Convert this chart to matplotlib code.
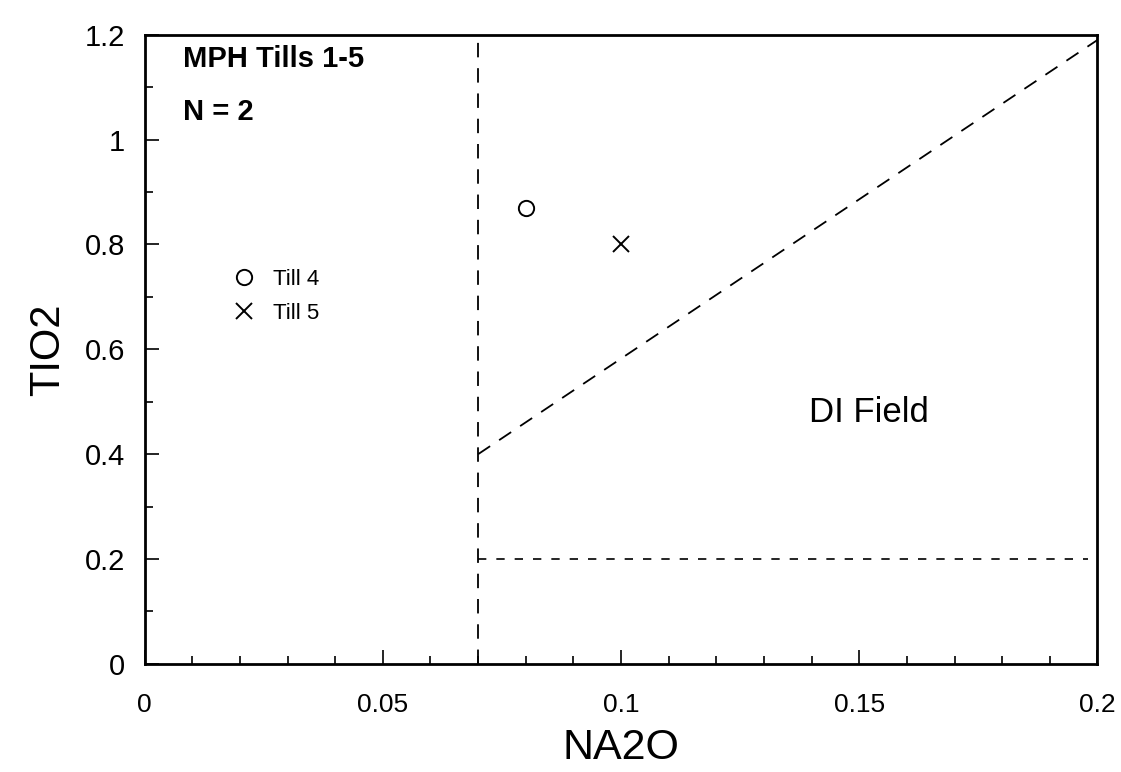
import numpy as np
import matplotlib
matplotlib.use("Agg")
from matplotlib import pyplot as plt
from matplotlib.ticker import MultipleLocator

# sample points (NA2O, TIO2)
till4_na2o = [0.080]
till4_tio2 = [0.87]
till5_na2o = [0.100]
till5_tio2 = [0.80]

# DI field boundaries
vert_x = [0.07, 0.07]
vert_y = [0.0, 1.19]
diag_x = [0.07, 0.2]
diag_y = [0.40, 1.19]
horiz_x = [0.07, 0.198]
horiz_y = [0.20, 0.20]

plt.rcParams['font.family'] = ['Liberation Sans', 'DejaVu Sans']

fig = plt.figure(figsize=(11.21, 7.72), dpi=100)
ax = fig.add_axes([0.129, 0.14, 0.850, 0.815])

ax.plot(vert_x, vert_y, color='black', lw=1.3, dashes=(8, 6))
ax.plot(diag_x, diag_y, color='black', lw=1.3, dashes=(8, 6))
ax.plot(horiz_x, horiz_y, color='black', lw=1.2, dashes=(5, 6))

ax.plot(till4_na2o, till4_tio2, 'o', mfc='none', mec='black', ms=11, mew=1.4,
        label='Till 4')
ax.plot(till5_na2o, till5_tio2, 'x', color='black', ms=11, mew=1.4,
        label='Till 5')

ax.set_xlim(0, 0.2)
ax.set_ylim(0, 1.2)
ax.xaxis.set_minor_locator(MultipleLocator(0.01))
ax.yaxis.set_minor_locator(MultipleLocator(0.1))
ax.set_xticks([0, 0.05, 0.1, 0.15, 0.2])
ax.set_xticklabels(['0', '0.05', '0.1', '0.15', '0.2'])
ax.set_yticks([0, 0.2, 0.4, 0.6, 0.8, 1.0, 1.2])
ax.set_yticklabels(['0', '0.2', '0.4', '0.6', '0.8', '1', '1.2'])

ax.tick_params(which='both', direction='in', top=False, right=False, width=1.2)
ax.tick_params(which='major', length=10)
ax.tick_params(which='minor', length=6)
ax.tick_params(axis='x', labelsize=19, pad=21)
ax.tick_params(axis='y', labelsize=21, pad=14)
for sp in ax.spines.values():
    sp.set_linewidth(2)

ax.set_xlabel('NA2O', fontsize=31, labelpad=8)
ax.set_ylabel('TIO2', fontsize=30, labelpad=12)

ax.text(0.008, 1.153, 'MPH Tills 1-5', fontsize=21, fontweight='bold', va='center')
ax.text(0.008, 1.053, 'N = 2', fontsize=21, fontweight='bold', va='center')
ax.text(0.152, 0.48, 'DI Field', fontsize=25, ha='center', va='center')

leg = ax.legend(loc='upper left', bbox_to_anchor=(0.072, 0.66), frameon=False,
                handletextpad=0.8, labelspacing=0.6, handlelength=1.0,
                prop={'size': 16})

fig.savefig('out.png', dpi=100)
